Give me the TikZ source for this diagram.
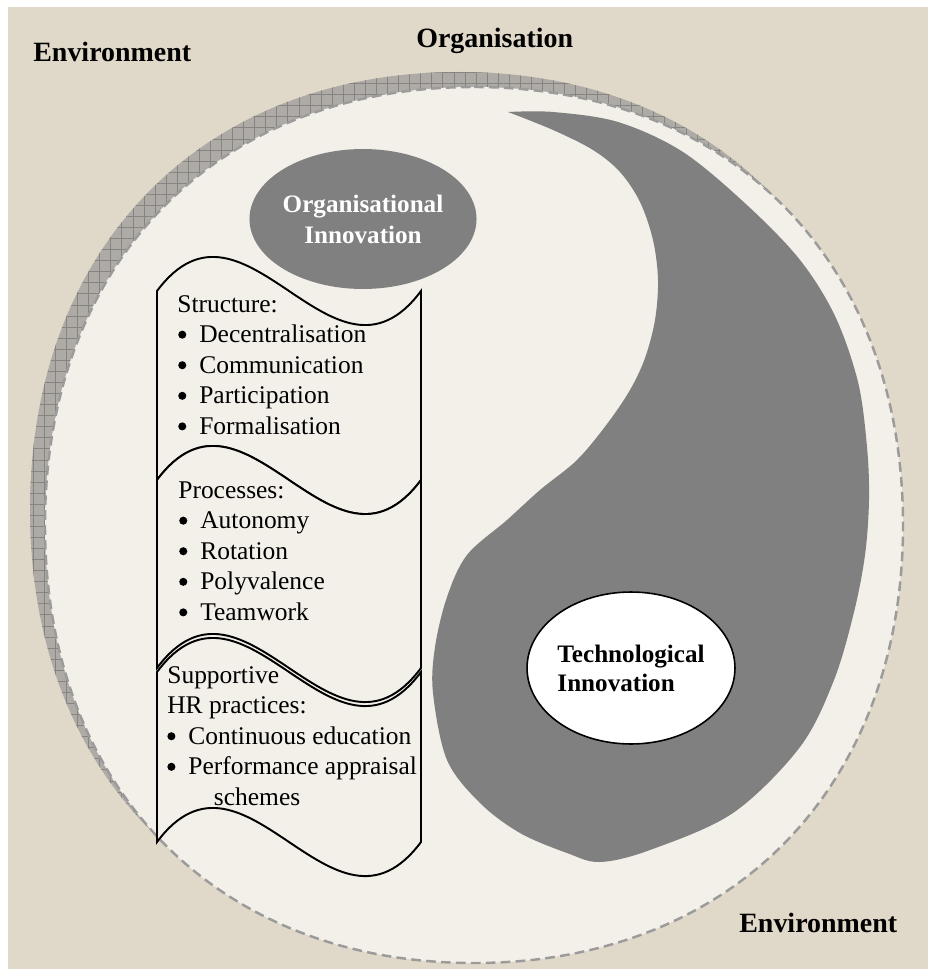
\documentclass[tikz,border=0pt]{standalone}
\usepackage{fontspec}
\setmainfont{Liberation Serif}
\usetikzlibrary{shapes.geometric,patterns.meta}

\definecolor{envbeige}{RGB}{224,216,200}
\definecolor{orgcream}{RGB}{243,240,233}
\definecolor{hatchgray}{RGB}{174,171,166}
\definecolor{hatchline}{RGB}{134,132,128}
\definecolor{dashgray}{RGB}{155,155,155}
\definecolor{inngray}{RGB}{128,128,128}

% round bullet, a bit larger than the text font's own
\newcommand{\bigdot}{\raisebox{2.2pt}{\tikz\fill (0,0) circle[radius=2.3pt];}}
\newcommand{\itm}{\makebox[12.5pt][l]{\hspace{0.5pt}\bigdot}}
% wavy panel between two heights, left side x=157, right side x=421
\newcommand{\tape}[2]{%
  \filldraw[tapebox] (157,#1) .. controls (245,#1-118) and (333,#1+118) .. (421,#1)
    -- (421,#2) .. controls (333,#2+118) and (245,#2-118) .. (157,#2) -- cycle;}
% outline of the organisation, a slightly squared ellipse
\newcommand{\rimpath}{(474,87) .. controls (731.4,87) and (903,262.2) .. (903,525)
  .. controls (903,787.8) and (731.4,963) .. (474,963)
  .. controls (216.6,963) and (45,787.8) .. (45,525)
  .. controls (45,262.2) and (216.6,87) .. (474,87) -- cycle}

\begin{document}
\begin{tikzpicture}[x=0.02cm, y=-0.02cm,
  lbl/.style={font=\bfseries\fontsize{15.9}{19}\selectfont, anchor=base west, inner sep=0pt},
  listtext/.style={font=\fontsize{14.5}{17.4}\selectfont, anchor=base west, inner sep=0pt},
  tapebox/.style={fill=orgcream, draw=black, line width=1.1pt},
  orginn/.style={ellipse, fill=inngray, text=white, minimum width=3.8cm, minimum height=2.8cm,
    inner sep=0pt, align=center, font=\bfseries\fontsize{14.3}{17.6}\selectfont},
  techinn/.style={ellipse, draw=black, line width=0.9pt, fill=white, minimum width=3.72cm,
    minimum height=3.04cm, inner sep=0pt, align=left, font=\bfseries\fontsize{14.3}{16.5}\selectfont}]
\useasboundingbox (0,0) rectangle (928,969);
\fill[envbeige] (8,7) rectangle (928,969);

% organisation: hatched rim and dashed border
\fill[hatchgray, shift={(-15,-15)}] \rimpath;
\fill[pattern={Hatch[angle=0, distance=6.3pt, line width=0.35pt]}, pattern color=hatchline,
  shift={(-15,-15)}] \rimpath;
\filldraw[fill=orgcream, draw=dashgray, line width=1.4pt, dash pattern=on 5.5pt off 3pt] \rimpath;

% technological side
\fill[inngray] plot[smooth, tension=0.55] coordinates {
  (508,112) (553,112) (618,122) (683,152) (748,206) (800,260) (835,316) (858,382)
  (867,447) (869,500) (865,555) (854,612) (834,680) (800,747) (733,813) (650,850)
  (600,862) (567,853) (520,833) (480,803) (447,760) (433,693) (435,647) (447,597)
  (467,555) (507,520) (540,490) (577,460) (607,424) (630,390) (645,358) (655,320)
  (658,280) (653,240) (640,202) (620,172) (593,150) (553,130) (508,112)} -- cycle;

\node[orginn] (orginnov) at (363,219) {Organisational\\Innovation};
\node[techinn] (techinnov) at (631,668) {Technological\\Innovation};

% the three panels
\tape{291}{480}
\tape{480}{668}
\tape{672}{842}

\node[listtext] (structure) at (177,312) {\begin{tabular}[t]{@{}l@{}}Structure:\\
  \itm Decentralisation\\ \itm Communication\\ \itm Participation\\ \itm Formalisation\end{tabular}};
\node[listtext] (processes) at (178,498) {\begin{tabular}[t]{@{}l@{}}Processes:\\
  \itm Autonomy\\ \itm Rotation\\ \itm Polyvalence\\ \itm Teamwork\end{tabular}};
\node[listtext] (hrpractices) at (167,683) {\begin{tabular}[t]{@{}l@{}}Supportive\\ HR practices:\\
  \makebox[12pt][l]{\bigdot}Continuous education\\
  \makebox[12pt][l]{\bigdot}Performance appraisal\\ \hspace{26.5pt}schemes\end{tabular}};

\node[lbl] (envtop) at (33,62) {Environment};
\node[lbl] (organisation) at (416,48) {Organisation};
\node[lbl] (envbottom) at (739,932) {Environment};
\end{tikzpicture}
\end{document}
